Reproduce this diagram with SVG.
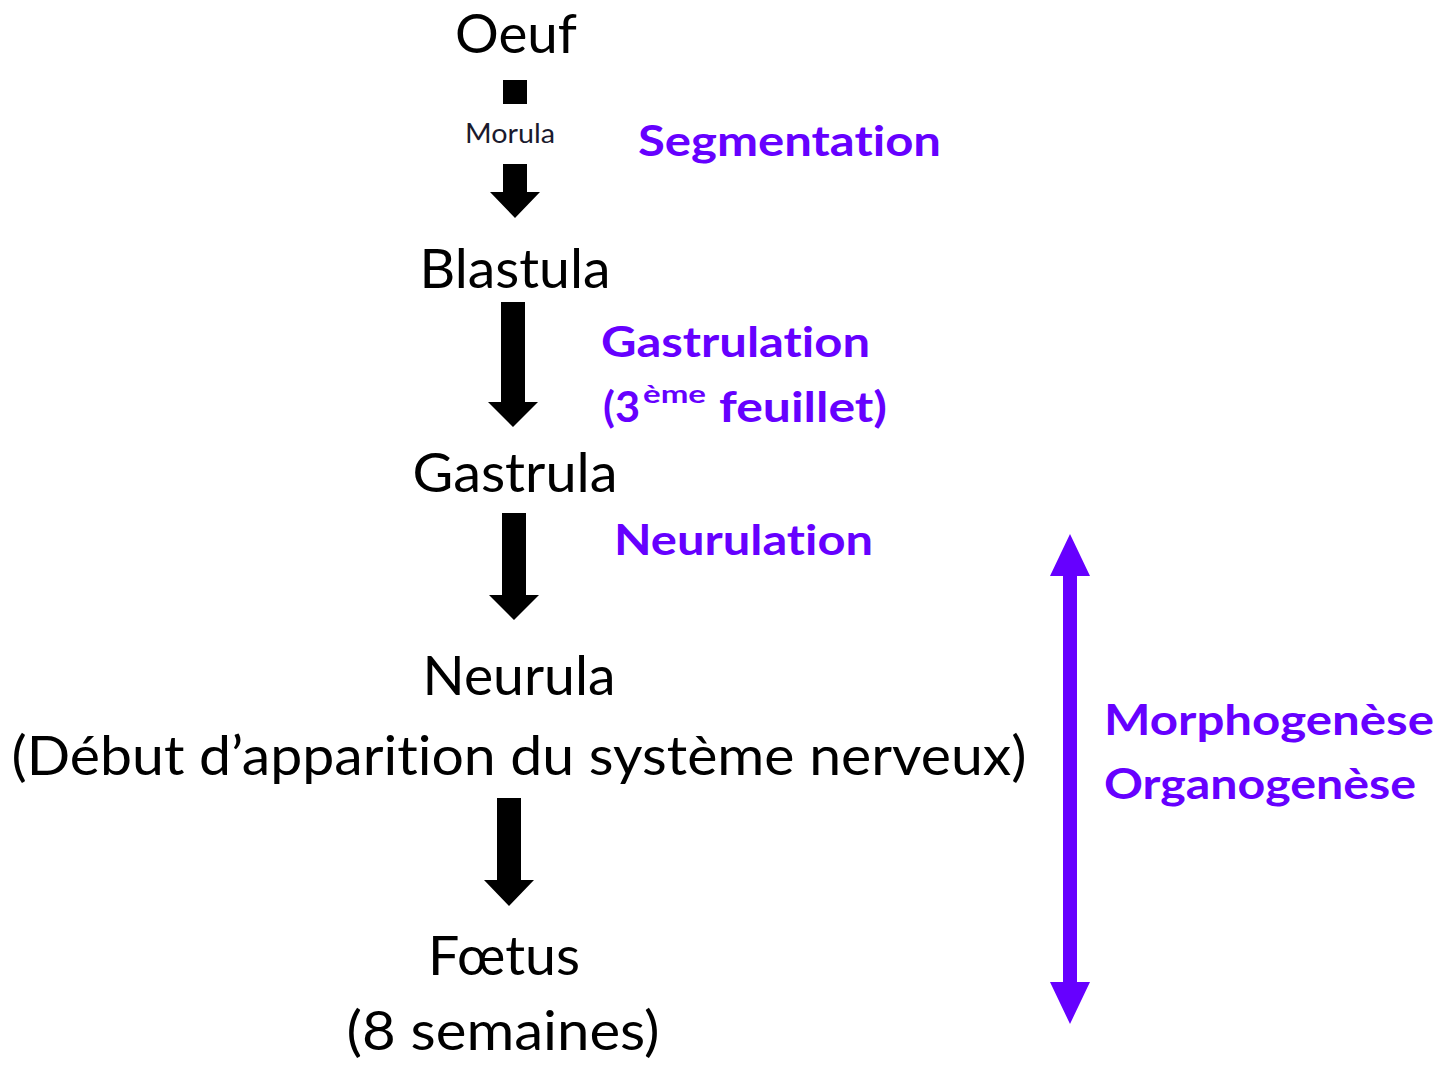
<svg xmlns="http://www.w3.org/2000/svg" width="1440" height="1066" viewBox="0 0 1440 1066">
<style>
text{font-variant-ligatures:none;font-feature-settings:"liga" 0,"dlig" 0}
.n{font-family:Lato,"Open Sans",sans-serif;font-size:54px;fill:#000;text-anchor:middle}
.s{font-family:Lato,"Open Sans",sans-serif;font-size:26px;fill:#1a1a2e;text-anchor:middle}
.p{font-family:Lato,"Open Sans",sans-serif;font-size:42px;font-weight:bold;fill:#6600ff}
.sup{font-size:25px}
.ar{fill:#000}
.pa{fill:#6600ff}
</style>
<rect width="1440" height="1066" fill="#fff"/>
<g id="connectors">
<g id="arrow-oeuf-blastula">
<rect class="ar" x="503" y="80" width="24" height="24"/>
<polygon class="ar" points="503,164 527,164 527,192 540,192 515,218 490,192 503,192"/>
</g>
<polygon id="arrow-blastula-gastrula" class="ar" points="501,302 525,302 525,402 538,402 513,427 488,402 501,402"/>
<polygon id="arrow-gastrula-neurula" class="ar" points="502,513 526,513 526,595 539,595 514,620 489,595 502,595"/>
<polygon id="arrow-neurula-foetus" class="ar" points="497,798 521,798 521,880 534,880 509,906 484,880 497,880"/>
<polygon id="arrow-morpho" class="pa" points="1070,534 1090,576 1077,576 1077,982 1090,982 1070,1024 1050,982 1063,982 1063,576 1050,576"/>
</g>
<g id="oeuf"><text class="n" x="516" y="53" textLength="122" lengthAdjust="spacingAndGlyphs">Oeuf</text></g>
<g id="morula"><text class="s" x="510" y="143" textLength="90" lengthAdjust="spacingAndGlyphs">Morula</text></g>
<g id="segmentation"><text class="p" x="638" y="156" textLength="303" lengthAdjust="spacingAndGlyphs">Segmentation</text></g>
<g id="blastula"><text class="n" x="515" y="288" textLength="191" lengthAdjust="spacingAndGlyphs">Blastula</text></g>
<g id="gastrulation">
<text class="p" x="601" y="357" textLength="269" lengthAdjust="spacingAndGlyphs">Gastrulation</text>
<text class="p" x="603" y="422" textLength="37" lengthAdjust="spacingAndGlyphs">(3</text>
<text class="p sup" x="643" y="403" textLength="63" lengthAdjust="spacingAndGlyphs">ème</text>
<text class="p" x="719" y="422" textLength="168" lengthAdjust="spacingAndGlyphs">feuillet)</text>
</g>
<g id="gastrula"><text class="n" x="515" y="492" textLength="205" lengthAdjust="spacingAndGlyphs">Gastrula</text></g>
<g id="neurulation"><text class="p" x="614" y="555" textLength="259" lengthAdjust="spacingAndGlyphs">Neurulation</text></g>
<g id="neurula">
<text class="n" x="519" y="695" textLength="193" lengthAdjust="spacingAndGlyphs">Neurula</text>
<text class="n" x="519" y="775" textLength="1015" lengthAdjust="spacingAndGlyphs">(Début d’apparition du système nerveux)</text>
</g>
<g id="foetus">
<text class="n" x="504" y="975" textLength="152" lengthAdjust="spacingAndGlyphs">Fœtus</text>
<text class="n" x="503" y="1050" textLength="313" lengthAdjust="spacingAndGlyphs">(8 semaines)</text>
</g>
<g id="morphogenese">
<text class="p" x="1104" y="735" textLength="330" lengthAdjust="spacingAndGlyphs">Morphogenèse</text>
<text class="p" x="1104" y="799" textLength="312" lengthAdjust="spacingAndGlyphs">Organogenèse</text>
</g>
</svg>
